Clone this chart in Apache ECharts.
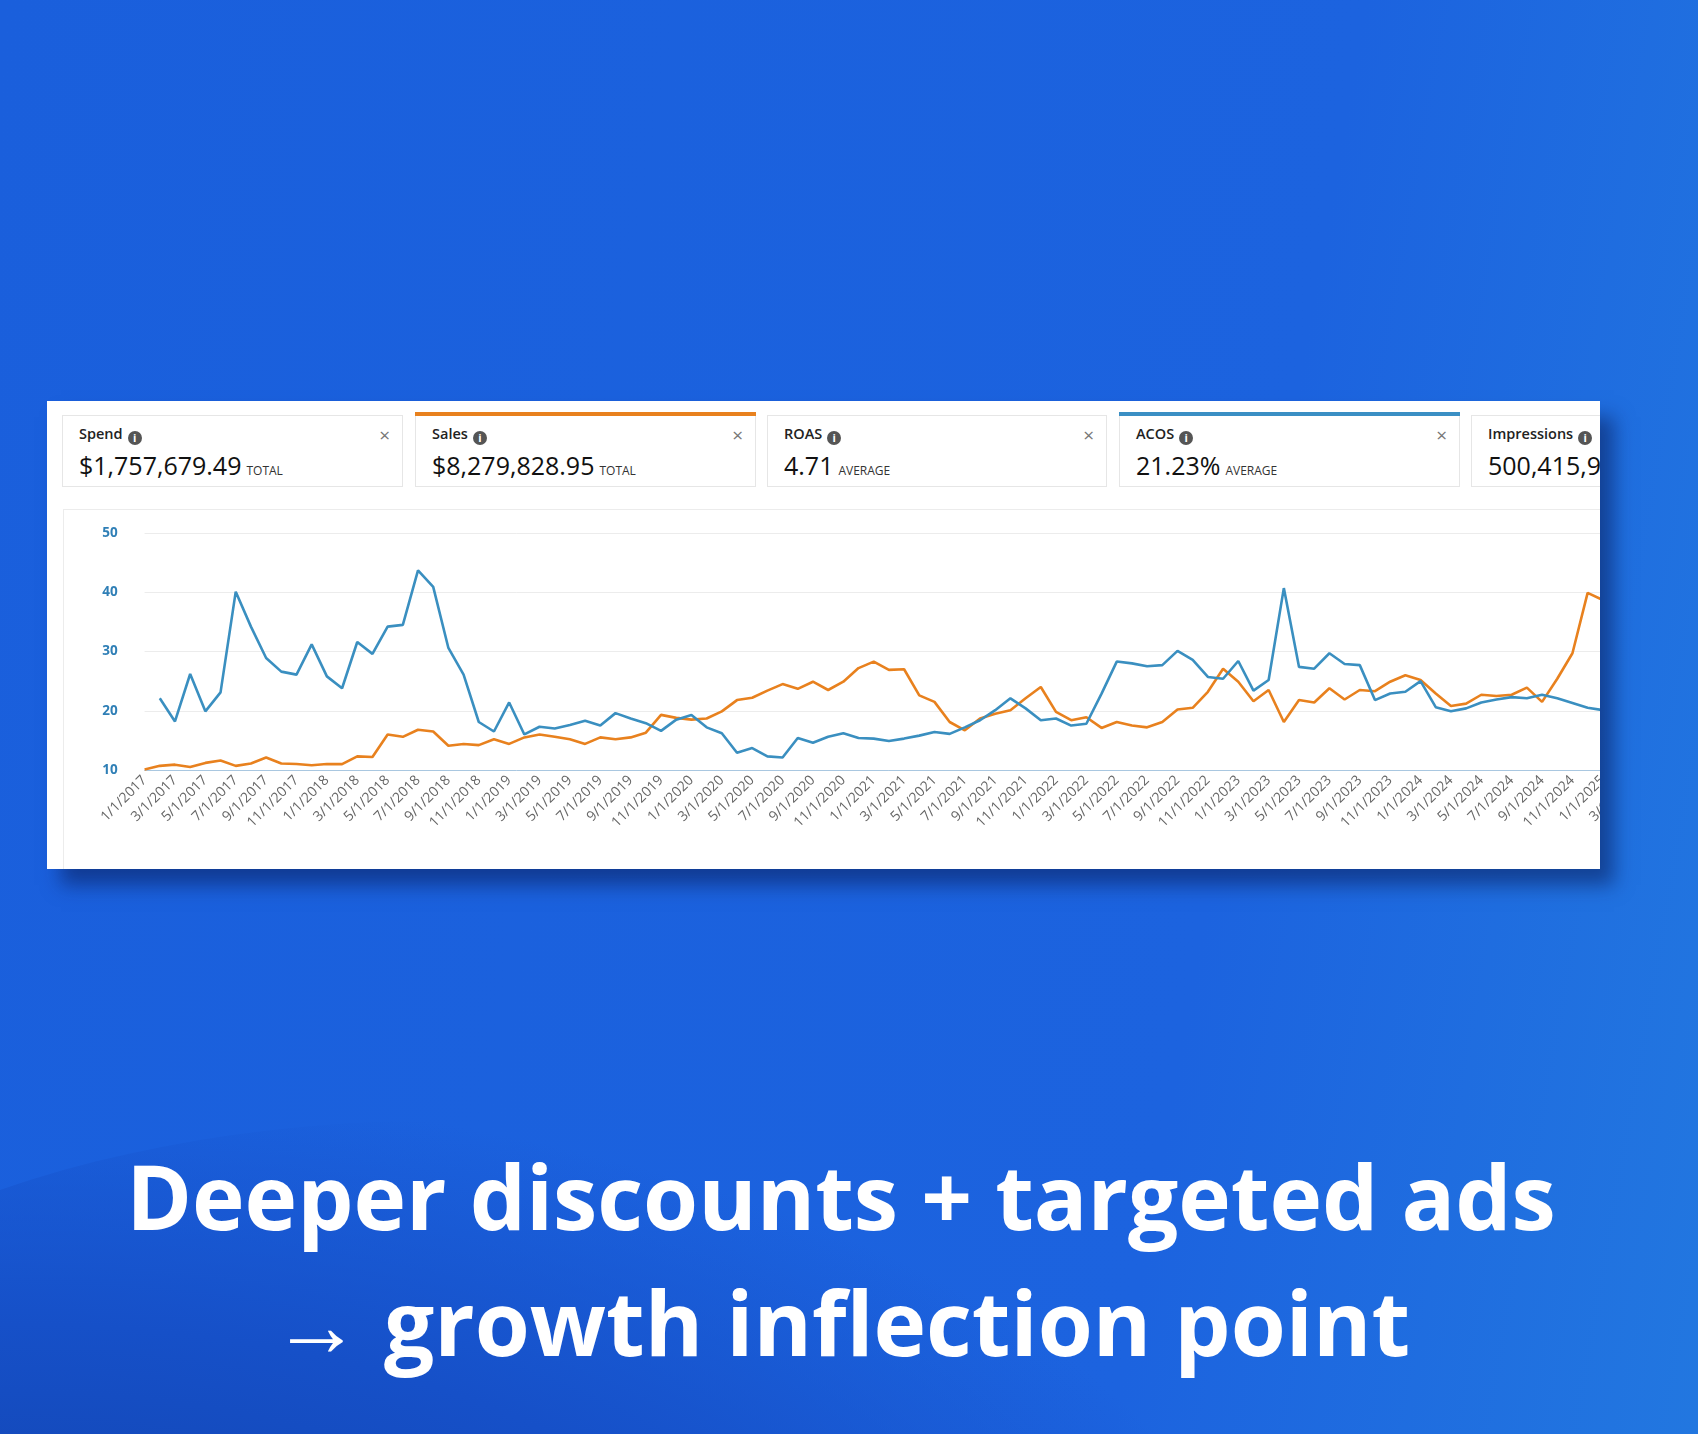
<!DOCTYPE html>
<html><head><meta charset="utf-8">
<script src="https://cdn.jsdelivr.net/npm/echarts@6/dist/echarts.min.js"></script>
<style>
html,body{margin:0;padding:0;width:1698px;height:1434px;overflow:hidden;font-family:"Open Sans",sans-serif;}
#bg{position:absolute;left:0;top:0;width:1698px;height:1434px;background:linear-gradient(100deg,#1a5fdc 0%,#1c63df 70%,#2277e0 100%);}
#wave{position:absolute;left:-300px;top:1120px;width:1500px;height:700px;border-radius:50%;background:radial-gradient(ellipse at 20% 80%,#1140a8 0%,#1650c8 45%,rgba(28,99,223,0) 75%);}
#card{position:absolute;left:47px;top:401px;width:1553px;height:468px;background:#fff;overflow:hidden;box-shadow:14px 16px 18px rgba(10,30,90,0.55);}
.tile{position:absolute;top:14px;height:72px;border:1px solid #e6e6e6;box-sizing:border-box;background:#fff;}
.tile .lab{position:absolute;left:16px;top:8px;font-size:14.5px;font-weight:600;color:#222;}
.tile .val{position:absolute;left:16px;top:32px;font-size:25px;color:#111;white-space:nowrap;}
.tile .val small{font-size:12px;color:#333;margin-left:5px;}
.tile .x{position:absolute;right:12px;top:6px;font-size:19px;color:#777;}
.bar{position:absolute;left:-1px;right:-1px;top:-4px;height:4px;}
.i{display:inline-block;width:14px;height:14px;border-radius:7px;background:#555;color:#fff;font-size:11px;text-align:center;line-height:14px;vertical-align:-3px;margin-left:5px;font-weight:700;}
#panel{position:absolute;left:16px;top:108px;width:1560px;height:360px;border:1px solid #ececec;}
#chart{position:absolute;left:0;top:0;width:1700px;height:468px;}
#title{position:absolute;left:-8px;width:1698px;text-align:center;color:#fff;font-weight:700;font-size:89px;line-height:126px;top:1133px;}
</style></head><body>
<div id="bg"></div><div id="wave"></div>
<div id="card">
 <div class="tile" style="left:15px;width:341px"><div class="lab">Spend<span class="i">i</span></div><div class="val">$1,757,679.49<small>TOTAL</small></div><div class="x">×</div></div>
 <div class="tile" style="left:368px;width:341px"><div class="bar" style="background:#e8811e"></div><div class="lab">Sales<span class="i">i</span></div><div class="val">$8,279,828.95<small>TOTAL</small></div><div class="x">×</div></div>
 <div class="tile" style="left:720px;width:340px"><div class="lab">ROAS<span class="i">i</span></div><div class="val">4.71<small>AVERAGE</small></div><div class="x">×</div></div>
 <div class="tile" style="left:1072px;width:341px"><div class="bar" style="background:#3a8fc4"></div><div class="lab">ACOS<span class="i">i</span></div><div class="val">21.23%<small>AVERAGE</small></div><div class="x">×</div></div>
 <div class="tile" style="left:1424px;width:200px"><div class="lab">Impressions<span class="i">i</span></div><div class="val">500,415,9</div></div>
 <div id="panel"></div>
 <div id="chart"></div>
</div>
<div id="title">Deeper discounts + targeted ads<br>→ growth inflection point</div>
<script>
const months = [];
for (let y = 2017; y <= 2025; y++) for (let m = 1; m <= 12; m++) { if (y === 2025 && m > 3) break; months.push(m + '/1/' + y); }
const acos = [null,22.1,18.2,26.2,19.9,23.1,40.1,34.2,28.9,26.6,26.1,31.2,25.8,23.8,31.6,29.6,34.2,34.5,43.7,40.9,30.6,26.1,18.1,16.5,21.4,16.0,17.3,17.0,17.6,18.3,17.5,19.6,18.7,17.9,16.6,18.5,19.3,17.2,16.2,12.9,13.7,12.3,12.1,15.4,14.6,15.6,16.2,15.4,
15.3,14.9,15.3,15.8,16.4,16.1,17.2,18.4,20.1,22.1,20.4,18.4,18.7,17.5,17.8,22.9,28.3,28.0,27.5,27.7,30.1,28.6,25.7,25.4,28.4,23.4,25.2,40.7,27.4,27.1,29.7,27.9,27.7,21.8,22.9,23.2,25.0,20.6,19.9,20.4,21.4,21.9,22.3,22.1,22.7,22.1,21.3,20.5,20.1,19.8];
const sales = [10.1,10.7,10.9,10.5,11.2,11.6,10.7,11.1,12.1,11.1,11.0,10.8,11.0,11.0,12.3,12.2,16.0,15.6,16.8,16.5,14.1,14.4,14.2,15.2,14.4,15.5,16.0,15.6,15.2,14.4,15.5,15.2,15.5,16.3,19.3,18.8,18.5,18.7,19.9,21.8,22.2,23.4,24.5,23.7,24.9,23.5,24.9,27.2,
28.3,26.9,27.0,22.6,21.5,18.1,16.7,18.7,19.5,20.1,22.1,24.0,19.8,18.4,18.9,17.1,18.1,17.5,17.2,18.1,20.2,20.5,23.2,27.1,24.9,21.6,23.5,18.1,21.8,21.4,23.8,21.9,23.5,23.3,24.9,26.0,25.2,22.9,20.8,21.2,22.7,22.5,22.7,23.9,21.5,25.4,29.7,39.9,38.7,37.0];
const yTicks = [10,20,30,40,50];
const chart = echarts.init(document.getElementById('chart'));
chart.setOption({
  animation:false,
  grid:{left:97.6,top:132,width:1488.6,height:237,containLabel:false},
  xAxis:{type:'category',data:months,boundaryGap:false,
    axisLine:{lineStyle:{color:'#a9c7e0',width:1}},axisTick:{show:false},
    axisLabel:{interval:1,rotate:45,color:'#666',fontSize:14,fontFamily:'Open Sans',margin:8}},
  yAxis:{type:'value',min:yTicks[0],max:yTicks[yTicks.length-1],interval:10,
    axisLine:{show:false},axisTick:{show:false},
    splitLine:{lineStyle:{color:'#ececec'}},
    axisLabel:{color:'#2f7fb6',fontWeight:'bold',fontSize:13.5,margin:27,fontFamily:'Open Sans'}},
  series:[
    {type:'line',data:sales,symbol:'none',lineStyle:{color:'#e8811e',width:2.6},itemStyle:{color:'#e8811e'}},
    {type:'line',data:acos,symbol:'none',lineStyle:{color:'#3a8fc0',width:2.6},itemStyle:{color:'#3a8fc0'}}
  ]
});
</script>
</body></html>
